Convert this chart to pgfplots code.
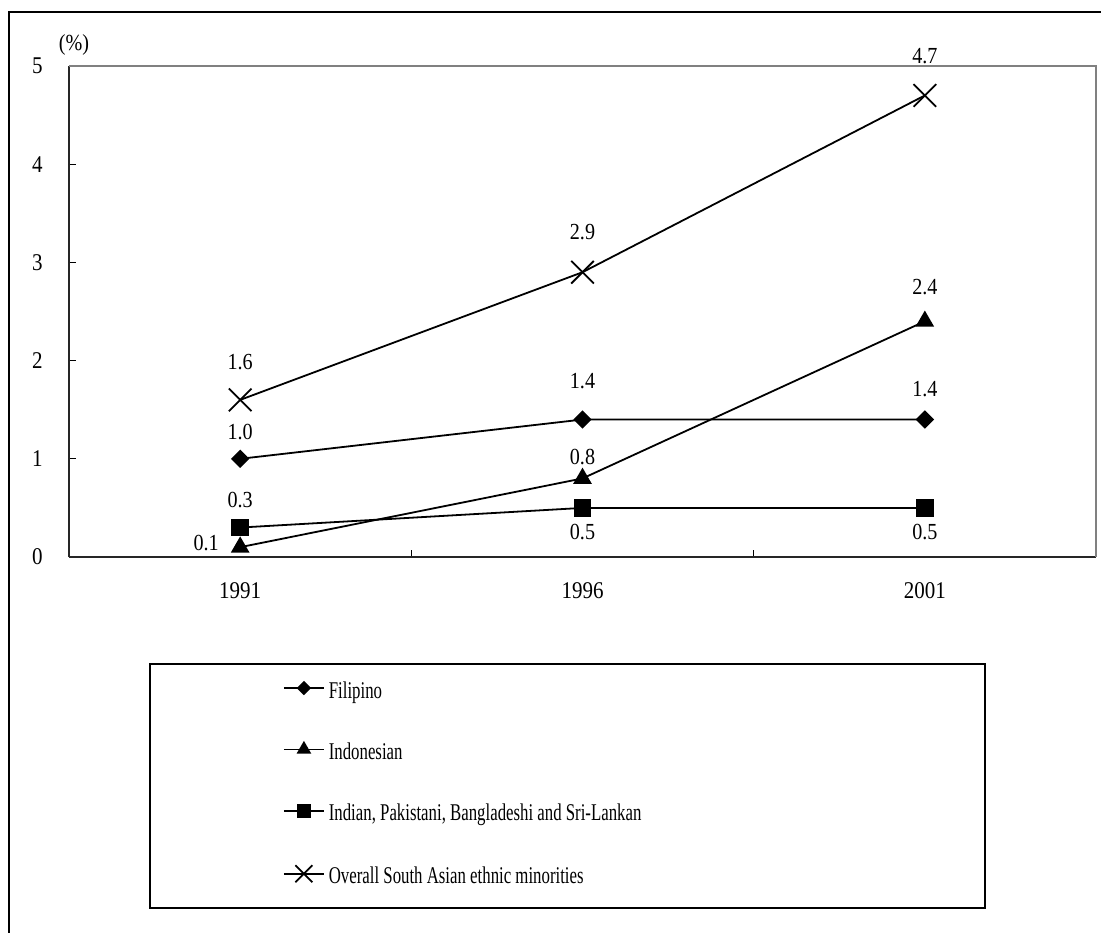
\documentclass[border=0pt]{standalone}
\usepackage{pgfplots}
\usepackage{pgfplotstable}
\pgfplotsset{compat=1.18}
\usepackage{fontspec}
\setmainfont{Liberation Serif}[FakeStretch=0.875]
\newfontfamily\legendfont{Liberation Serif}[FakeStretch=0.7]

% columns: category index, share (%), label offset x/y (pt)
\pgfplotstableread{
x y dx dy
0 1.0 0 13.5
1 1.4 0 19
2 1.4 0 15
}\filipino
\pgfplotstableread{
x y dx dy
0 0.1 -17 2
1 0.8 0 10.5
2 2.4 0 17
}\indonesian
\pgfplotstableread{
x y dx dy
0 0.3 0 14
1 0.5 0 -12
2 0.5 0 -12
}\southasian
\pgfplotstableread{
x y dx dy
0 1.6 0 19
1 2.9 0 20
2 4.7 0 19.5
}\overall

\begin{document}
\begin{tikzpicture}
% outer frame (left and top edges)
\draw[black, line width=0.7pt] (4.5pt,-5pt) -- (4.5pt,460pt) -- (560pt,460pt);
% legend frame
\draw[black, line width=0.7pt] (75pt,12pt) rectangle (492.5pt,134pt);

\begin{axis}[
  at={(34.5pt,187.5pt)}, anchor=south west,
  scale only axis, width=513.5pt, height=245.5pt,
  xmin=-0.5, xmax=2.5, ymin=0, ymax=5,
  clip=false,
  axis x line*=bottom, axis y line*=left,
  axis line style={line width=0.7pt, draw=black!85, -},
  /pgf/number format/assume math mode=true,
  tick align=inside,
  tick style={black, line width=0.5pt},
  ytick={0,1,2,3,4,5},
  major tick length=3.5pt,
  yticklabel style={font=\fontsize{12}{14}\selectfont, anchor=east, inner sep=0pt, xshift=-13pt},
  xtick={0.5,1.5},
  xticklabels={},
  extra x ticks={0,1,2},
  extra x tick labels={1991,1996,2001},
  extra x tick style={major tick length=0pt,
    xticklabel style={font=\fontsize{12}{14}\selectfont, anchor=north, inner sep=0pt, yshift=-12.5pt}},
  every axis plot/.append style={black, line width=0.9pt, mark options={solid, fill=black}},
  nodes near coords={\pgfmathprintnumber[fixed,fixed zerofill,precision=1]{\pgfplotspointmeta}},
  visualization depends on={\thisrow{dx} \as \dx},
  visualization depends on={\thisrow{dy} \as \dy},
  every node near coord/.style={anchor=center, xshift=\dx pt, yshift=\dy pt,
    font=\fontsize{11.5}{13}\selectfont, text=black, inner sep=0pt},
  legend style={
    at={(axis description cs:0.2084,-0.2526)}, anchor=north west,
    draw=none, fill=none, inner sep=0pt, outer sep=0pt,
    row sep=19.7pt, column sep=2pt,
    nodes={inner sep=0pt, text height=8.5pt, text depth=2.5pt, font=\legendfont\fontsize{12}{14}\selectfont},
  },
  legend cell align=left,
  legend image code/.code={
    \draw[mark repeat=2, mark phase=2, /tikz/every mark/.append style={scale=0.75}]
      plot coordinates {(0pt,2pt) (10pt,2pt) (20pt,2pt)};
  },
]
\addplot[mark=square*, mark size=2.8pt, mark options={rotate=45}]
  table[x=x, y=y, meta=y] {\filipino};
\addlegendentry{Filipino}
\addplot[mark=triangle*, mark size=4.5pt]
  table[x=x, y=y, meta=y] {\indonesian};
\addlegendentry{Indonesian}
\addplot[mark=square*, mark size=4pt]
  table[x=x, y=y, meta=y] {\southasian};
\addlegendentry{Indian, Pakistani, Bangladeshi and Sri-Lankan}
\addplot[mark=x, mark size=8pt]
  table[x=x, y=y, meta=y] {\overall};
\addlegendentry{Overall South Asian ethnic minorities}
% light top and right frame of the plot area
\draw[black!50, line width=0.7pt] (rel axis cs:0,1) -- (rel axis cs:1,1) -- (rel axis cs:1,0);
\end{axis}
\node[font=\fontsize{11.5}{13}\selectfont, inner sep=0pt] at (37pt,443.5pt) {(\%)};
\pgfresetboundingbox
\path[use as bounding box] (0,0) rectangle (550.5pt,466pt);
\end{tikzpicture}
\end{document}
